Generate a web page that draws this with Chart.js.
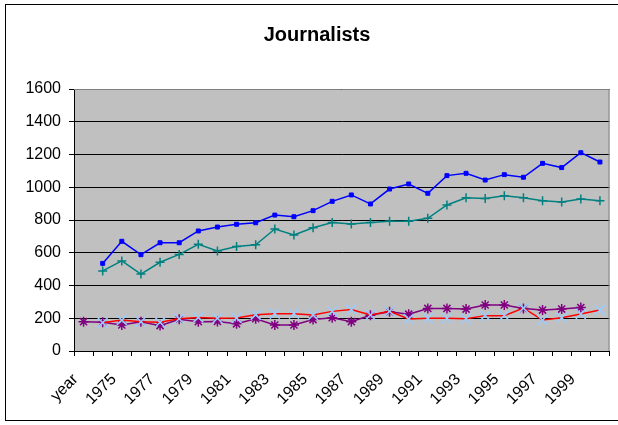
<!DOCTYPE html>
<html>
<head>
<meta charset="utf-8">
<title>Journalists</title>
<script src="https://cdn.jsdelivr.net/npm/chart.js@4/dist/chart.umd.min.js"></script>
<style>
    html, body { margin: 0; padding: 0; background: #fff; }
    canvas { display: block; }
</style>
</head>
<body>
<canvas id="chart" width="618" height="425"></canvas>
<script>
const years = ['year', '1974', '1975', '1976', '1977', '1978', '1979', '1980', '1981', '1982',
    '1983', '1984', '1985', '1986', '1987', '1988', '1989', '1990', '1991', '1992',
    '1993', '1994', '1995', '1996', '1997', '1998', '1999', '2000'];

const blueSeries = [null, 535, 670, 588, 661, 661, 733, 757, 774, 783,
    830, 820, 857, 914, 953, 898, 989, 1020, 963, 1071,
    1085, 1044, 1077, 1061, 1146, 1120, 1211, 1154];

const tealSeries = [null, 489, 550, 470, 542, 590, 652, 611, 638, 649,
    745, 708, 753, 784, 776, 784, 792, 792, 810, 892,
    936, 932, 948, 936, 918, 910, 928, 918];

const purpleSeries = [179, 175, 159, 179, 155, 194, 179, 180, 166, 197,
    159, 159, 192, 203, 179, 218, 240, 225, 260, 260,
    256, 281, 281, 260, 250, 256, 265, null];

const redSeries = [null, 173, 189, 179, 175, 197, 205, 200, 202, 222,
    228, 228, 220, 242, 253, 220, 242, 195, 200, 200,
    197, 216, 216, 262, 189, 203, 226, 250];

const yTicks = [0, 200, 400, 600, 800, 1000, 1200, 1400, 1600];

const chartTitle = 'Journalists';

const FONT = "'Liberation Sans', Arial, sans-serif";

document.addEventListener('DOMContentLoaded', () => {
    const ctx = document.getElementById('chart').getContext('2d');

    // grey plot area, outer frame, title
    const framePlugin = {
        id: 'frame',
        beforeDraw(chart) {
            const a = chart.chartArea;
            const c = chart.ctx;
            c.save();
            c.fillStyle = '#fff';
            c.fillRect(0, 0, chart.width, chart.height);
            c.fillStyle = '#c0c0c0';
            c.fillRect(a.left, a.top, a.right - a.left, a.bottom - a.top);
            c.restore();
        },
        afterDraw(chart) {
            const a = chart.chartArea;
            const c = chart.ctx;
            c.save();
            c.strokeStyle = '#808080';
            c.lineWidth = 1;
            c.beginPath();
            c.moveTo(a.left, a.top + 0.5);
            c.lineTo(a.right - 0.5, a.top + 0.5);
            c.lineTo(a.right - 0.5, a.bottom);
            c.stroke();
            c.strokeStyle = '#000';
            c.strokeRect(5.5, 4.5, 640, 416);
            c.fillStyle = '#000';
            c.font = 'bold 20px ' + FONT;
            c.textAlign = 'center';
            c.textBaseline = 'middle';
            c.fillText(chartTitle, 317, 35);
            c.restore();
        }
    };

    new Chart(ctx, {
        type: 'line',
        data: {
            labels: years,
            datasets: [
                {
                    label: 'red',
                    data: redSeries,
                    borderColor: '#ff0000',
                    borderWidth: 1.5,
                    pointStyle: 'crossRot',
                    pointRadius: 7,
                    pointBorderColor: '#99ccff',
                    pointBackgroundColor: '#99ccff',
                    pointBorderWidth: 1.5,
                    tension: 0
                },
                {
                    label: 'purple',
                    data: purpleSeries,
                    borderColor: '#800080',
                    borderWidth: 1.5,
                    pointStyle: 'star',
                    pointRadius: 5,
                    pointBorderColor: '#800080',
                    pointBackgroundColor: '#800080',
                    pointBorderWidth: 1.5,
                    tension: 0
                },
                {
                    label: 'teal',
                    data: tealSeries,
                    borderColor: '#008080',
                    borderWidth: 1.5,
                    pointStyle: 'cross',
                    pointRadius: 4.5,
                    pointBorderColor: '#008080',
                    pointBackgroundColor: '#008080',
                    pointBorderWidth: 1.5,
                    tension: 0
                },
                {
                    label: 'blue',
                    data: blueSeries,
                    borderColor: '#0000ff',
                    borderWidth: 1.5,
                    pointStyle: 'rect',
                    pointRadius: 2.8,
                    pointBorderColor: '#0000ff',
                    pointBackgroundColor: '#0000ff',
                    pointBorderWidth: 1,
                    tension: 0
                }
            ]
        },
        options: {
            responsive: false,
            animation: false,
            layout: {
                padding: { top: 89, right: 5, bottom: 0, left: 0 }
            },
            scales: {
                x: {
                    offset: true,
                    grid: {
                        offset: true,
                        drawOnChartArea: false,
                        drawTicks: true,
                        tickLength: 5,
                        color: '#000'
                    },
                    border: { display: true, color: '#000', width: 1 },
                    ticks: {
                        autoSkip: false,
                        minRotation: 45,
                        maxRotation: 45,
                        padding: 14,
                        labelOffset: -8,
                        color: '#000',
                        font: { family: FONT, size: 16 },
                        callback: (v, i) => (i % 2 === 0 && i < 27 ? years[i] : '')
                    },
                    afterFit(scale) {
                        scale.height = 74;
                        scale.paddingLeft = 0;
                        scale.paddingRight = 0;
                    }
                },
                y: {
                    min: 0,
                    max: 1600,
                    afterBuildTicks(scale) {
                        scale.ticks = yTicks.map(v => ({ value: v }));
                    },
                    grid: {
                        color: '#000',
                        tickLength: 5,
                        lineWidth: 1
                    },
                    border: { display: true, color: '#000', width: 1 },
                    ticks: {
                        padding: 8,
                        color: '#000',
                        font: { family: FONT, size: 16 },
                        callback: v => String(v)
                    },
                    afterFit(scale) { scale.width = 74; }
                }
            },
            plugins: {
                legend: { display: false },
                tooltip: { enabled: false },
                title: { display: false }
            }
        },
        plugins: [framePlugin]
    });
});
</script>
</body>
</html>
